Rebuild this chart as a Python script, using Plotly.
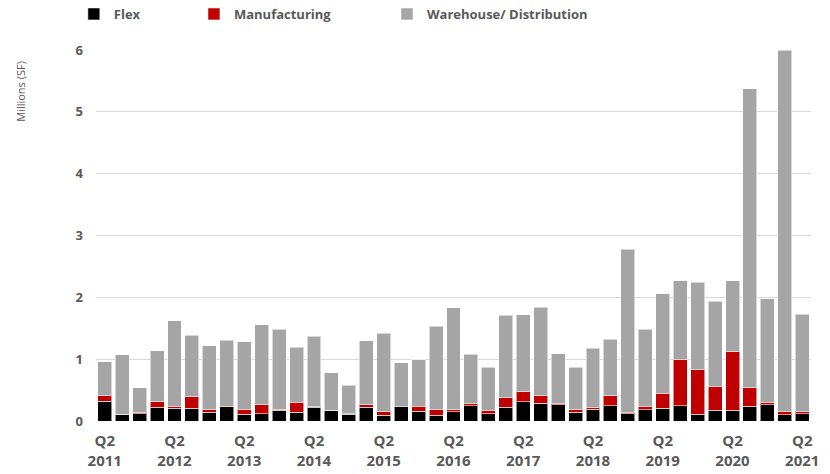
import plotly.graph_objects as go

# Quarterly completions, Q2 2011 through Q2 2021 (millions of SF)
years = list(range(2011, 2022))
quarters = [f"{y} Q{q}" for y in range(2011, 2022) for q in (1, 2, 3, 4)]
quarters = quarters[1:quarters.index("2021 Q2") + 1]

flex = [0.32, 0.11, 0.12, 0.22, 0.21, 0.21, 0.14, 0.23, 0.11, 0.12, 0.17, 0.14, 0.22,
        0.17, 0.11, 0.22, 0.09, 0.23, 0.16, 0.09, 0.15, 0.25, 0.12, 0.22, 0.31, 0.29,
        0.26, 0.14, 0.19, 0.25, 0.12, 0.18, 0.21, 0.25, 0.11, 0.17, 0.17, 0.24, 0.26,
        0.10, 0.12]
manufacturing = [0.09, 0.00, 0.01, 0.09, 0.03, 0.18, 0.04, 0.01, 0.08, 0.14, 0.02, 0.16,
                 0.01, 0.00, 0.01, 0.04, 0.06, 0.00, 0.08, 0.09, 0.03, 0.03, 0.05, 0.16,
                 0.16, 0.12, 0.02, 0.04, 0.03, 0.16, 0.01, 0.06, 0.24, 0.74, 0.72, 0.39,
                 0.95, 0.30, 0.04, 0.05, 0.03]
warehouse = [0.55, 0.96, 0.41, 0.83, 1.38, 1.00, 1.04, 1.07, 1.09, 1.30, 1.29, 0.89,
             1.14, 0.61, 0.46, 1.04, 1.27, 0.71, 0.75, 1.35, 1.65, 0.80, 0.70, 1.33,
             1.25, 1.43, 0.81, 0.69, 0.96, 0.91, 2.65, 1.24, 1.61, 1.28, 1.41, 1.38,
             1.15, 4.83, 1.68, 5.85, 1.58]

tick_quarters = [f"{y} Q2" for y in years]
tick_labels = [f"Q2<br>{y}" for y in years]

series = [
    ("Flex", flex, "#000000", "legend", -0.031),
    ("Manufacturing", manufacturing, "#C00000", "legend2", 0.137),
    ("Warehouse/ Distribution", warehouse, "#A5A5A5", "legend3", 0.407),
]

TEXT = "#595959"
FONT = "Open Sans"

fig = go.Figure()
layout_legends = {}
for name, vals, color, leg, lx in series:
    fig.add_trace(go.Bar(
        x=quarters, y=vals, name=name, legend=leg,
        marker=dict(color=color, line=dict(color="rgba(255,255,255,0.55)", width=1)),
    ))
    layout_legends[leg] = dict(
        x=lx, xref="paper", y=1.097, yref="paper", xanchor="left", yanchor="middle",
        orientation="h", bgcolor="rgba(0,0,0,0)", itemwidth=30,
        font=dict(family=FONT, size=13, color=TEXT, weight="bold"),
    )

fig.update_layout(
    barmode="stack",
    bargap=0.2,
    width=830, height=474,
    margin=dict(l=96, r=19, t=50, b=53, autoexpand=False),
    paper_bgcolor="white", plot_bgcolor="white",
    showlegend=True,
    **layout_legends,
)

fig.update_xaxes(
    type="category", categoryorder="array", categoryarray=quarters,
    tickmode="array", tickvals=tick_quarters, ticktext=tick_labels,
    tickangle=0, ticks="", showgrid=False, showline=False, zeroline=False,
    ticklabelstandoff=9,
    tickfont=dict(family=FONT, size=15, color=TEXT, weight="bold"),
)
fig.update_yaxes(
    range=[0, 6], dtick=1, tick0=0, showgrid=True, gridcolor="#D9D9D9", gridwidth=1,
    zeroline=False, showline=False, ticks="", ticklabelstandoff=12,
    tickfont=dict(family=FONT, size=13, color=TEXT, weight="bold"),
)

fig.add_annotation(
    text="Millions (SF)", textangle=-90, showarrow=False,
    xref="paper", yref="paper", x=-0.106, y=0.888, xanchor="center", yanchor="middle",
    font=dict(family=FONT, size=11, color=TEXT),
)

fig.write_html("out.html")
